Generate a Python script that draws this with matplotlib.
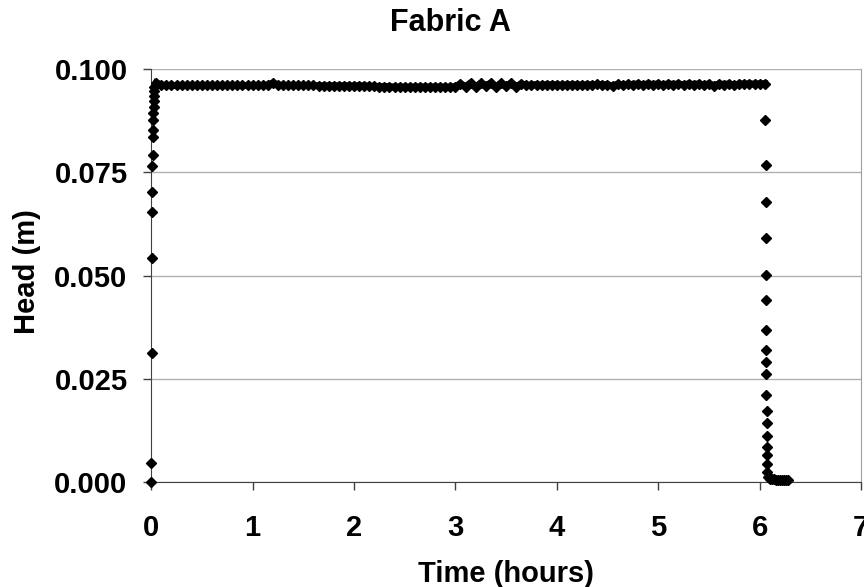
import numpy as np
import matplotlib.pyplot as plt

plt.rcParams['font.family'] = ['Liberation Sans', 'DejaVu Sans']

# filling: head climbs within the first couple of minutes
rise_t = [0.000, 0.002, 0.004, 0.006, 0.008, 0.010, 0.012, 0.014, 0.016,
          0.018, 0.020, 0.022, 0.024, 0.026, 0.028, 0.030, 0.032]
rise_h = [0.0000, 0.0046, 0.0312, 0.0542, 0.0654, 0.0703, 0.0765, 0.0792,
          0.0835, 0.0852, 0.0876, 0.0895, 0.0908, 0.0922, 0.0935, 0.0948, 0.0956]

# steady head, one reading every 3 minutes
plateau_t = [round(0.05 + 0.05 * i, 2) for i in range(121)]
plateau_h = [
    0.0967, 0.0962, 0.0961, 0.0961, 0.0961, 0.0961, 0.0961, 0.0961, 0.0961, 0.0961,
    0.0961, 0.0961, 0.0961, 0.0961, 0.0961, 0.0961, 0.0961, 0.0961, 0.0961, 0.0961,
    0.0961, 0.0961, 0.0962, 0.0967, 0.0962, 0.0961, 0.0961, 0.0961, 0.0961, 0.0961,
    0.0961, 0.0961, 0.0960, 0.0960, 0.0960, 0.0960, 0.0960, 0.0960, 0.0960, 0.0960,
    0.0960, 0.0960, 0.0959, 0.0959, 0.0958, 0.0958, 0.0958, 0.0957, 0.0957, 0.0957,
    0.0957, 0.0957, 0.0957, 0.0957, 0.0957, 0.0957, 0.0957, 0.0957, 0.0957, 0.0958,
    0.0965, 0.0958, 0.0967, 0.0957, 0.0966, 0.0960, 0.0967, 0.0958, 0.0966, 0.0959,
    0.0967, 0.0958, 0.0965, 0.0961, 0.0962, 0.0963, 0.0961, 0.0963, 0.0962, 0.0963,
    0.0961, 0.0963, 0.0962, 0.0963, 0.0961, 0.0963, 0.0962, 0.0964, 0.0962, 0.0963,
    0.0959, 0.0964, 0.0962, 0.0964, 0.0963, 0.0965, 0.0962, 0.0965, 0.0963, 0.0965,
    0.0962, 0.0965, 0.0963, 0.0965, 0.0962, 0.0965, 0.0963, 0.0965, 0.0962, 0.0965,
    0.0960, 0.0965, 0.0963, 0.0965, 0.0961, 0.0965, 0.0964, 0.0965, 0.0964, 0.0965,
    0.0965,
]

# drainage after the supply is cut
drop_t = [6.058, 6.059, 6.060, 6.061, 6.062, 6.063, 6.064, 6.065, 6.066,
          6.067, 6.068, 6.069, 6.070, 6.071, 6.072, 6.073, 6.074, 6.075]
drop_h = [0.0877, 0.0768, 0.0678, 0.0590, 0.0502, 0.0441, 0.0368, 0.0320,
          0.0290, 0.0261, 0.0211, 0.0172, 0.0143, 0.0111, 0.0085, 0.0065,
          0.0044, 0.0024]

tail_t = [6.08, 6.10, 6.12, 6.14, 6.16, 6.18, 6.20, 6.22, 6.24, 6.26, 6.28]
tail_h = [0.0012, 0.0008, 0.0006, 0.0006, 0.0005, 0.0005, 0.0005, 0.0005,
          0.0004, 0.0004, 0.0004]

t = np.concatenate([rise_t, plateau_t, drop_t, tail_t])
h = np.concatenate([rise_h, plateau_h, drop_h, tail_h])

fig = plt.figure(figsize=(8.64, 5.87), dpi=100)
ax = fig.add_axes([0.175, 0.179, 0.8215, 0.703])

# readings are logged so densely that the plateau merges into a band
ax.plot(plateau_t, plateau_h, '-', color='black', linewidth=5.0, zorder=3)
ax.plot(t, h, 'D', color='black', markersize=4.8, linestyle='none',
        clip_on=False, zorder=3)

ax.set_xlim(0, 7)
ax.set_ylim(0, 0.1)
ax.set_xticks(range(8))
ax.set_yticks([0.0, 0.025, 0.05, 0.075, 0.1])
ax.set_yticklabels(['0.000', '0.025', '0.050', '0.075', '0.100'])
ax.yaxis.grid(True, color='#b0b0b0', linewidth=1.0)
ax.set_axisbelow(True)

ax.spines['top'].set_visible(False)
ax.spines['right'].set_color('#a0a0a0')
ax.spines['left'].set_color('#404040')
ax.spines['bottom'].set_color('#404040')

ax.tick_params(axis='both', labelsize=21, width=1, length=5.5, colors='#404040',
               labelcolor='black')
ax.tick_params(axis='x', pad=17.5)
ax.tick_params(axis='y', pad=11.5)
for lbl in ax.get_xticklabels() + ax.get_yticklabels():
    lbl.set_fontweight('bold')

fig.text(450 / 864, 1 - 23 / 587, 'Fabric A', fontsize=22, fontweight='bold',
         ha='center', va='center')
ax.set_xlabel('Time (hours)', fontsize=21, fontweight='bold')
ax.set_ylabel('Head (m)', fontsize=21, fontweight='bold')
ax.xaxis.set_label_coords(0.5, -0.188)
ax.yaxis.set_label_coords(-0.155, 0.51)

fig.savefig('out.png', dpi=100)
